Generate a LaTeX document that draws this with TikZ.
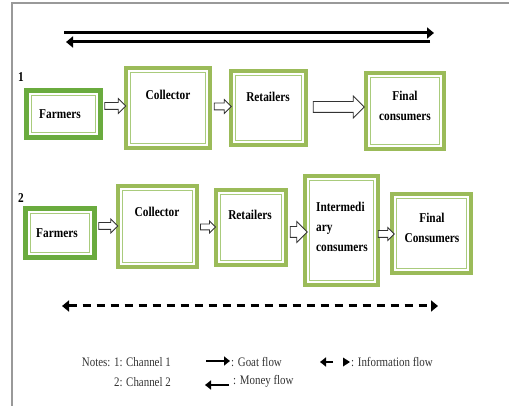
\documentclass[tikz,border=0pt]{standalone}
\usepackage{fontspec}
\setmainfont{Liberation Serif}
\newfontfamily\narrowfont[FakeStretch=0.84]{Liberation Serif}
\usetikzlibrary{shapes,arrows,positioning,calc,arrows.meta}

\definecolor{darkleaf}{HTML}{6AAB3E}
\definecolor{leaf}{HTML}{9BBB59}
\definecolor{paleleaf}{HTML}{A9CB7C}

\tikzset{
  box/.style={draw=leaf, line width=4pt, fill=white,
    path picture={\draw[paleleaf, line width=0.9pt]
      ([shift={(4.6pt,-4.6pt)}]path picture bounding box.north west) rectangle
      ([shift={(-4.6pt,4.6pt)}]path picture bounding box.south east);}},
  farmbox/.style={box, draw=darkleaf, line width=5pt},
  lbl/.style={font=\narrowfont\bfseries\fontsize{13.5}{20}\selectfont, align=center, inner sep=0pt},
  note/.style={font=\narrowfont\fontsize{13}{20}\selectfont, text=black!80, inner sep=0pt},
  hollow/.style={single arrow, draw=black!80, line width=0.8pt, fill=white, inner xsep=0pt,
    inner ysep=3pt, single arrow head extend=4pt, shape border rotate=0},
  flow/.style={line width=3pt, -{Triangle[length=7pt,width=11pt]}},
}

\begin{document}
\begin{tikzpicture}[x=1pt,y=-1pt]
    \useasboundingbox (0,0) rectangle (509,406);
    % Frame
    \draw [gray!80, line width=1.5pt] (12,406) -- (12,3) -- (509,3);

    % Goat and money flow
    \coordinate (gs) at (64,33);  \coordinate (ge) at (434,33);
    \coordinate (ms) at (430,42); \coordinate (me) at (66,42);
    \draw [flow] (gs) -- (ge);
    \draw [flow] (ms) -- (me);

    % Channel 1
    \node [lbl] (n1) at (21,77) {1};
    \node [farmbox, minimum width=74pt, minimum height=47pt] (farm1) at (63.5,114) {};
    \node [lbl] (tfarm1) at (60,114) {Farmers};
    \node [box, minimum width=84pt, minimum height=80pt] (coll1) at (168,108) {};
    \node [lbl] (tcoll1) at (168,95) {Collector};
    \node [box, minimum width=75pt, minimum height=74pt] (ret1) at (268.5,108) {};
    \node [lbl] (tret1) at (268,97) {Retailers};
    \node [box, minimum width=78pt, minimum height=76pt] (fin1) at (405,111) {};
    \node [lbl] (tfin1) at (405,106) {Final\\consumers};

    \node [hollow, minimum height=21pt] (a11) at (113.5,106) {};
    \node [hollow, minimum height=17pt, single arrow head extend=3.5pt] (a12) at (221,106.5) {};
    \node [hollow, minimum height=51pt, inner ysep=5pt, single arrow head extend=5.5pt] (a13) at (336,107) {};

    % Channel 2
    \node [lbl] (n2) at (21,198) {2};
    \node [farmbox, minimum width=69pt, minimum height=49pt] (farm2) at (60,233) {};
    \node [lbl] (tfarm2) at (57,233) {Farmers};
    \node [box, minimum width=79pt, minimum height=81pt] (coll2) at (157.5,226.5) {};
    \node [lbl] (tcoll2) at (157,212) {Collector};
    \node [box, minimum width=70pt, minimum height=75pt] (ret2) at (251,227.5) {};
    \node [lbl] (tret2) at (250,215) {Retailers};
    \node [box, minimum width=73pt, minimum height=109pt] (int2) at (341.5,230.5) {};
    \node [lbl, align=left] (tint2) at (342,227) {Intermedi\\ary\\consumers};
    \node [box, minimum width=79pt, minimum height=79pt] (fin2) at (431.5,233.5) {};
    \node [lbl] (tfin2) at (432,228) {Final\\Consumers};

    \node [hollow, minimum height=19pt, single arrow head extend=3.5pt] (b11) at (106.5,226) {};
    \node [hollow, minimum height=15pt, inner ysep=2.5pt, single arrow head extend=3pt] (b12) at (206.5,227) {};
    \node [hollow, minimum height=17pt, inner ysep=5pt, single arrow head extend=5pt] (b13) at (296,232) {};
    \node [hollow, minimum height=16pt, single arrow head extend=3pt] (b14) at (384.5,234) {};

    % Information flow
    \coordinate (is) at (62,306); \coordinate (ie) at (438,306);
    \draw [line width=3pt, dash pattern=on 8pt off 6pt,
      {Triangle[length=7pt,width=11pt]}-{Triangle[length=7pt,width=11pt]}] (is) -- (ie);

    % Notes
    \node [note, align=right, anchor=east] (chan) at (171,372) {Notes: 1: Channel 1\\2: Channel 2};
    \coordinate (lg1) at (206,361); \coordinate (lg2) at (230,361);
    \draw [line width=2.5pt, -{Triangle[length=6pt,width=9pt]}] (lg1) -- (lg2);
    \node [note, anchor=west] (goat) at (231,362) {: Goat flow};
    \coordinate (lm1) at (229,385); \coordinate (lm2) at (205,385);
    \draw [line width=2.5pt, -{Triangle[length=6pt,width=9pt]}] (lm1) -- (lm2);
    \node [note, anchor=west] (money) at (233,381) {: Money flow};
    \coordinate (li1) at (333,362); \coordinate (li2) at (320,362);
    \draw [line width=2.5pt, -{Triangle[length=6pt,width=9pt]}] (li1) -- (li2);
    \fill (343,357.5) -- (350,362) -- (343,366.5) -- cycle;
    \node [note, anchor=west] (info) at (351,362) {: Information flow};
\end{tikzpicture}
\end{document}
